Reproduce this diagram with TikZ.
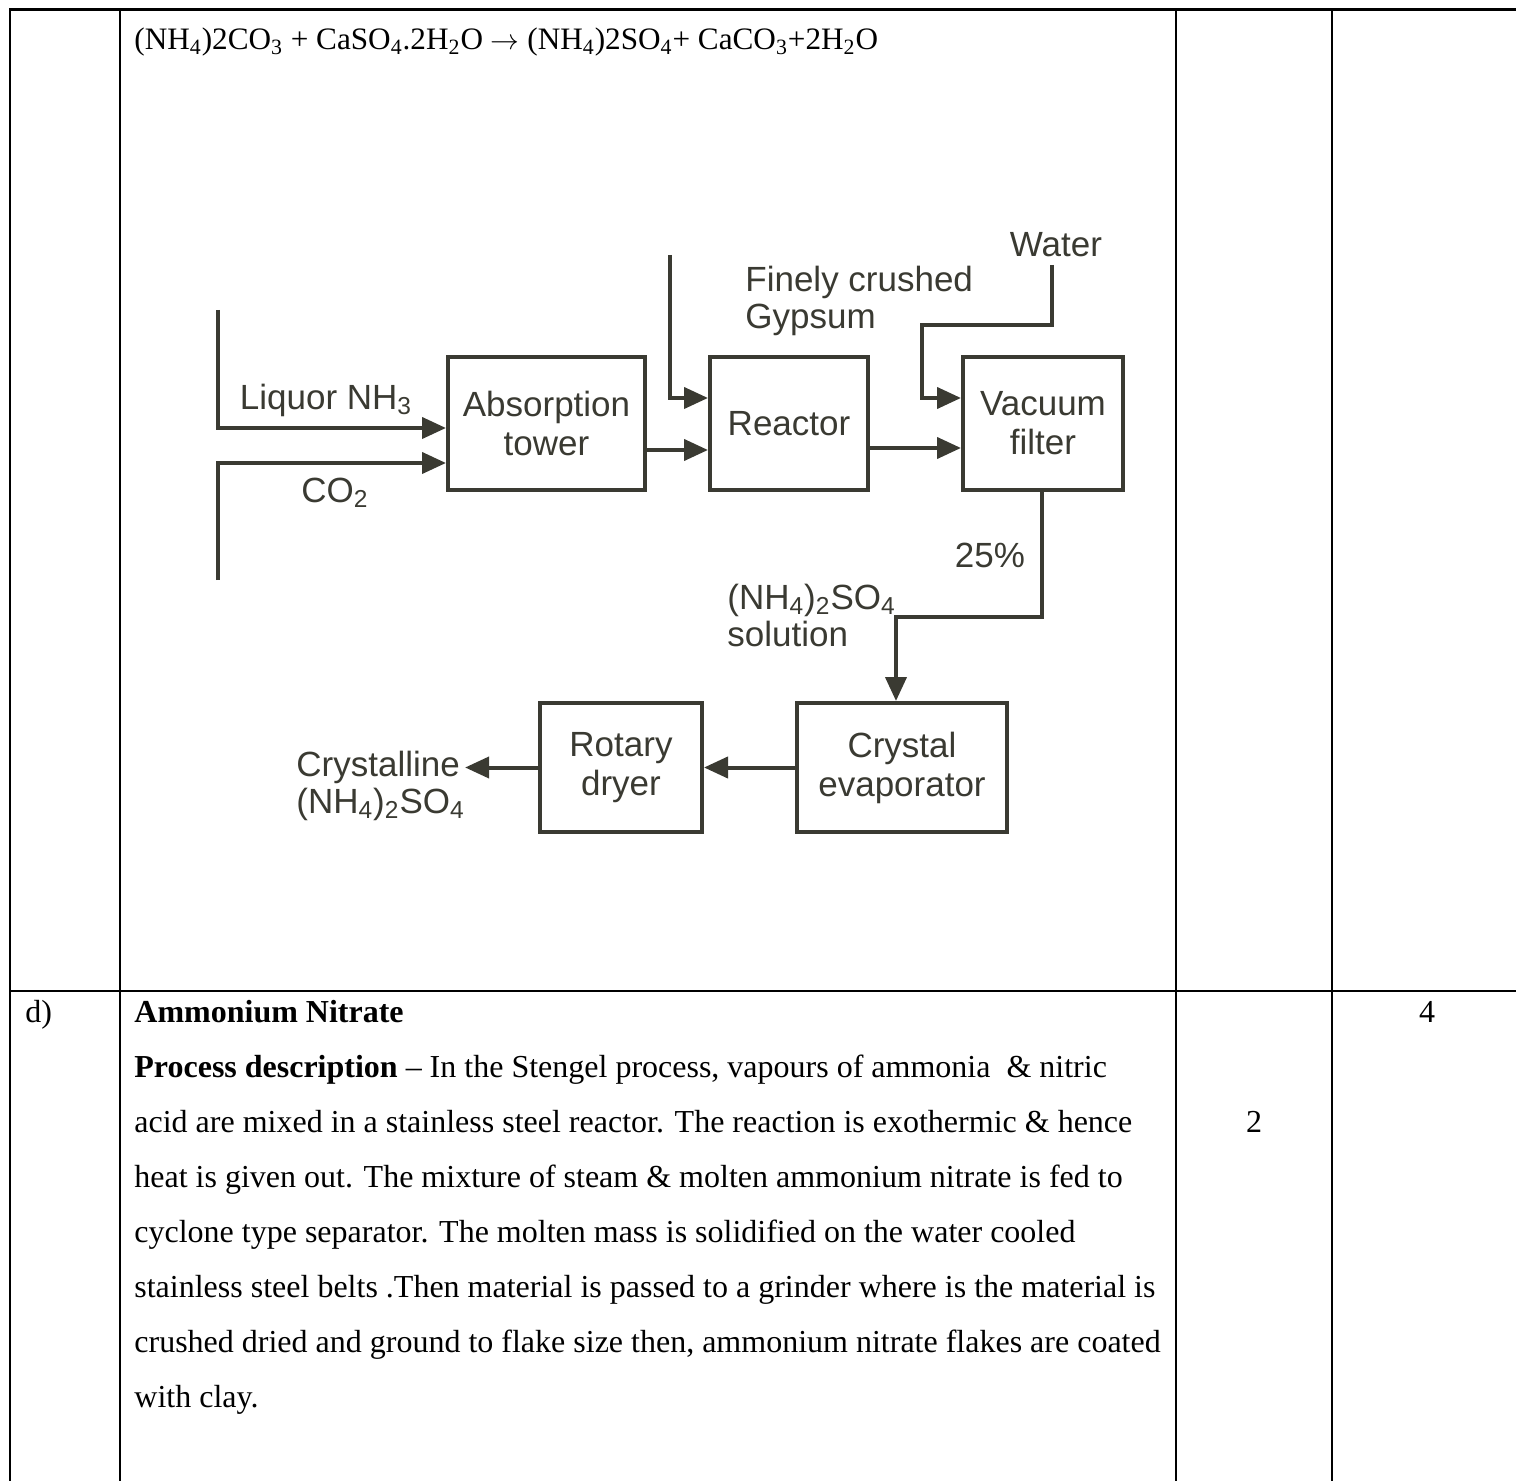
\documentclass[tikz,border=0pt]{standalone}
\usepackage{fontspec}
\setmainfont{Liberation Serif}
\newfontfamily\diafont{Liberation Sans}
\usetikzlibrary{arrows.meta}
\definecolor{ink}{HTML}{3A3A32}
\begin{document}
\begin{tikzpicture}[x=0.5pt,y=-0.5pt,
  gridline/.style={line width=1pt,black},
  box/.style={draw=ink,line width=2pt,align=center,font=\diafont\fontsize{17.5}{19.5}\selectfont,text=ink,inner sep=0pt,minimum height=66.5pt},
  lbl/.style={font=\diafont\fontsize{17.5}{18.5}\selectfont,text=ink,inner sep=0pt},
  flow/.style={draw=ink,line width=2pt,-{Triangle[length=12pt,width=10.5pt]}},
  body/.style={font=\fontsize{16}{27.5}\selectfont,inner sep=0pt}]
\useasboundingbox (0,0) rectangle (1516,1481);
% table rules
\draw[line width=1.5pt] (9,10) -- (1516,10);
\draw[gridline] (9,991) -- (1516,991);
\foreach \x in {9.5,119.5,1176,1332} \draw[gridline] (\x,10) -- (\x,1481);
% equation
\node[body,font=\fontsize{15.6}{20}\selectfont,anchor=base west] (eq) at (134,50) {(NH\textsubscript{4})2CO\textsubscript{3} + CaSO\textsubscript{4}.2H\textsubscript{2}O $\rightarrow$ (NH\textsubscript{4})2SO\textsubscript{4}+ CaCO\textsubscript{3}+2H\textsubscript{2}O};
% boxes
\node[box,minimum width=98.5pt] (abs) at (546.5,423.5) {Absorption\\tower};
\node[box,minimum width=79pt] (reac) at (789,423.5) {Reactor};
\node[box,minimum width=80pt] (vac) at (1043,423.5) {Vacuum\\filter};
\node[box,minimum width=81pt,minimum height=64.5pt] (dry) at (621,767.5) {Rotary\\dryer};
\node[box,minimum width=105pt,minimum height=64.5pt] (evap) at (902,767.5) {Crystal\\evaporator};
% labels
\node[lbl] (lnh3) at (326,400) {Liquor NH\textsubscript{3}};
\node[lbl] (lco2) at (335,493) {CO\textsubscript{2}};
\node[lbl,align=left,anchor=west] (lgyp) at (745,301) {Finely crushed\\Gypsum};
\node[lbl] (lwat) at (1056,245) {Water};
\node[lbl] (l25) at (990,555) {25\%};
\node[lbl,align=left,anchor=west] (lsol) at (727,615) {(NH\textsubscript{4})\textsubscript{2}SO\textsubscript{4}\\solution};
\node[lbl,align=left,anchor=west] (lcry) at (296,786) {Crystalline\\(NH\textsubscript{4})\textsubscript{2}SO\textsubscript{4}};
% free ends
\coordinate (nh3s) at (218,310);
\coordinate (co2s) at (218,580);
\coordinate (gyps) at (670,255);
\coordinate (wats) at (1052,265);
\coordinate (w1) at (1052,325);
\coordinate (w2) at (922,325);
\coordinate (v1) at (1042,617);
% connectors
\draw[flow] (nh3s) |- ([yshift=-2.25pt]abs.west);
\draw[flow] (co2s) |- ([yshift=-19.75pt]abs.west);
\draw[flow] ([yshift=-13.25pt]abs.east) -- ([yshift=-13.25pt]abs.east -| reac.west);
\draw[flow] (gyps) |- ([yshift=12.75pt]reac.west);
\draw[flow] ([yshift=-12.25pt]reac.east) -- ([yshift=-12.25pt]reac.east -| vac.west);
\draw[flow] (wats) -- (w1) -- (w2) |- ([yshift=12.75pt]vac.west);
\draw[flow] (vac.south -| v1) -- (v1) -| ([xshift=-3pt]evap.north);
\draw[flow] (evap.west) -- (dry.east);
\draw[flow] (dry.west) -- (dry.west -| lcry.east);
% body text
\node[body,anchor=base west] (lab) at (25,1022) {d)};
\node[body,anchor=base] (m4) at (1427,1022) {4};
\node[body,anchor=base] (m2) at (1254,1132) {2};
\node[body,anchor=base west] (t1) at (134,1022) {\textbf{Ammonium Nitrate}};
\node[body,anchor=base west] (t2) at (134,1077) {\textbf{Process description} – In the Stengel process, vapours of ammonia\ \ \& nitric};
\node[body,anchor=base west] (t3) at (134,1132) {acid are mixed in a stainless steel reactor. The reaction is exothermic \& hence};
\node[body,anchor=base west] (t4) at (134,1187) {heat is given out. The mixture of steam \& molten ammonium nitrate is fed to};
\node[body,anchor=base west] (t5) at (134,1242) {cyclone type separator. The molten mass is solidified on the water cooled};
\node[body,anchor=base west] (t6) at (134,1297) {stainless steel belts .Then material is passed to a grinder where is the material is};
\node[body,anchor=base west] (t7) at (134,1352) {crushed dried and ground to flake size then, ammonium nitrate flakes are coated};
\node[body,anchor=base west] (t8) at (134,1407) {with clay.};
\end{tikzpicture}
\end{document}
